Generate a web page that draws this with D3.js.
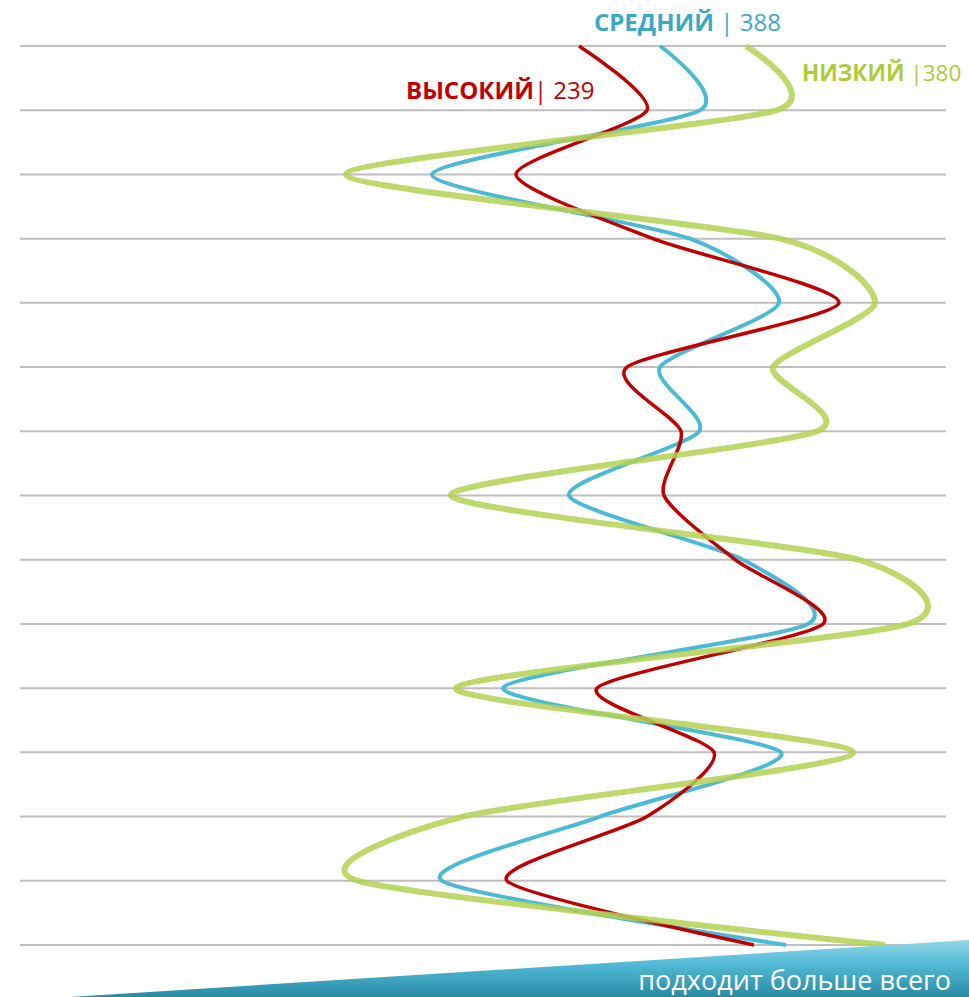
<!DOCTYPE html>
<html>
<head>
<meta charset="utf-8">
<script src="https://cdn.jsdelivr.net/npm/d3@7"></script>
<style>
  html, body { margin: 0; padding: 0; background: #fff; }
  svg { display: block; }
</style>
</head>
<body>
<svg id="chart" width="969" height="997"></svg>
<script>
// Rows (top to bottom) — one per horizontal rule
const rows = d3.range(15);

// Score profile per group, one value per row
const highValues = [579, 647, 516, 653, 839, 627, 681, 664, 735, 823, 597, 714, 647, 507, 754];
const midValues  = [660, 700, 432, 690, 779, 660, 699, 569, 743, 808, 503, 781, 600, 442, 786];
const lowValues  = [746, 777, 346, 780, 875, 773, 817, 451, 858, 908, 456, 853, 463, 358, 885];

// Legend labels
const seriesNames = ["ВЫСОКИЙ", "СРЕДНИЙ", "НИЗКИЙ"];
const seriesCounts = ["239", "388", "380"];
const footerText = "подходит больше всего";

const W = 969, H = 997;
const svg = d3.select("#chart");

const x = d3.scaleLinear().domain([0, 969]).range([0, 969]);
const y = d3.scalePoint().domain(rows).range([46, 945]);

// gradient for the bottom wedge
const defs = svg.append("defs");
const grad = defs.append("linearGradient")
  .attr("id", "wedge").attr("x1", 0).attr("y1", 0).attr("x2", 0).attr("y2", 1);
grad.append("stop").attr("offset", "0%").attr("stop-color", "#93d6e8");
grad.append("stop").attr("offset", "45%").attr("stop-color", "#4fb8d4");
grad.append("stop").attr("offset", "100%").attr("stop-color", "#2a8aa3");

// horizontal rules
svg.append("g")
  .selectAll("line")
  .data(rows)
  .join("line")
  .attr("x1", 20).attr("x2", 946)
  .attr("y1", d => y(d)).attr("y2", d => y(d))
  .attr("stroke", "#bfbfbf")
  .attr("stroke-width", 2);

const line = d3.line()
  .x(d => x(d.v))
  .y(d => y(d.r))
  .curve(d3.curveCardinal.tension(0.3));

const series = [
  { values: midValues,  color: "#4cb9d5", width: 4,   opacity: 1 },
  { values: highValues, color: "#c00000", width: 3.5, opacity: 1 },
  { values: lowValues,  color: "#b3d152", width: 6,   opacity: 0.85 }
];

svg.append("g")
  .selectAll("path")
  .data(series)
  .join("path")
  .attr("d", s => line(s.values.map((v, i) => ({ r: rows[i], v }))))
  .attr("fill", "none")
  .attr("stroke", s => s.color)
  .attr("stroke-width", s => s.width)
  .attr("stroke-opacity", s => s.opacity)
  .attr("stroke-linecap", "butt");

// legend labels
const labels = [
  { name: seriesNames[0], count: "| " + seriesCounts[0], x: 406, y: 99, color: "#c00000", size: 24 },
  { name: seriesNames[1], count: " | " + seriesCounts[1], x: 594, y: 31, color: "#3ea7c5", size: 24 },
  { name: seriesNames[2], count: " |" + seriesCounts[2], x: 802, y: 81, color: "#aecb3b", size: 22.5 }
];
const lg = svg.append("g")
  .attr("font-family", "'Open Sans', 'Noto Sans', sans-serif");
labels.forEach(l => {
  const t = lg.append("text").attr("x", l.x).attr("y", l.y)
    .attr("fill", l.color).attr("font-size", l.size);
  t.append("tspan").attr("font-weight", 700).text(l.name);
  t.append("tspan").attr("font-weight", 400).text(l.count);
});

// bottom wedge with caption
svg.append("path")
  .attr("d", `M70,${H} L${W},940 L${W},${H} Z`)
  .attr("fill", "url(#wedge)");
svg.append("text")
  .attr("x", 951).attr("y", 990)
  .attr("text-anchor", "end")
  .attr("font-family", "'Open Sans', 'Noto Sans', sans-serif")
  .attr("font-size", 27)
  .attr("fill", "#fff")
  .text(footerText);
</script>
</body>
</html>
